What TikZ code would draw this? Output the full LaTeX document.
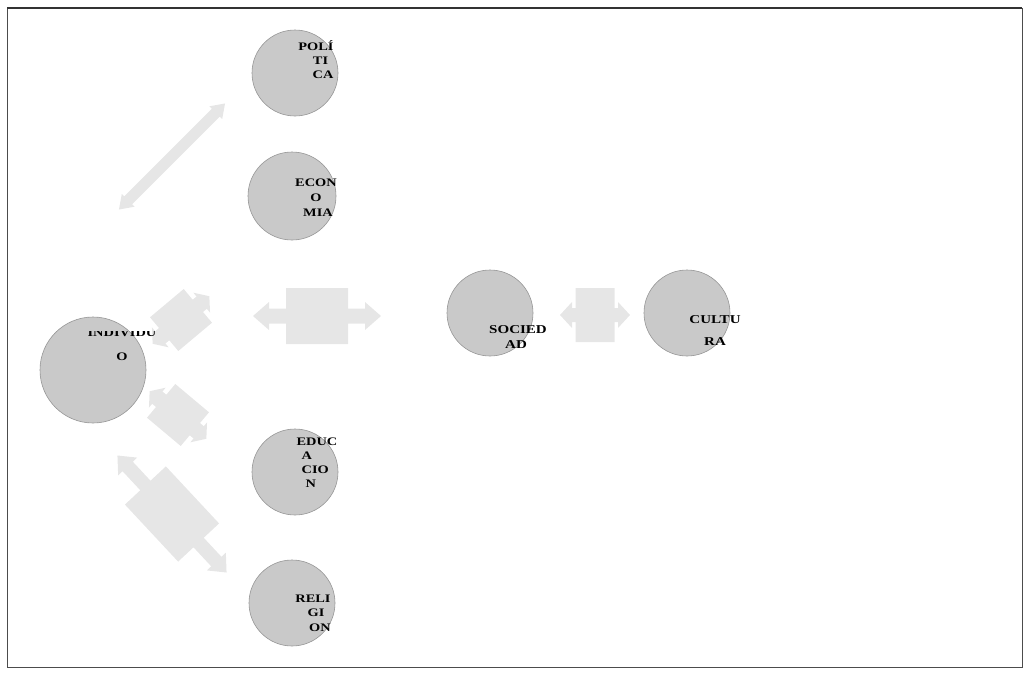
\documentclass[tikz,border=0pt]{standalone}
\usepackage{fontspec}
\setmainfont{Liberation Serif}
\newfontfamily\widefont[FakeStretch=1.25]{Liberation Serif}
\begin{document}
\begin{tikzpicture}[x=1pt,y=-1pt,
  circ/.style={circle,draw={rgb,255:red,150;green,150;blue,150},line width=0.6pt,
    fill={rgb,255:red,201;green,201;blue,201},inner sep=0pt},
  lbl/.style={align=center,inner sep=0pt,text=black},
  blk/.style={fill={rgb,255:red,230;green,230;blue,230},draw=none}]
\useasboundingbox (0,0) rectangle (1030,675);
\draw[line width=0.6pt,black!70] (7,8) rectangle (1022,667);
\draw[line width=1.6pt,black!80] (7,8) -- (1022,8);
% block double arrow: cx, cy, angle, L, bl, bw, s, h, hl
\newcommand\dblarr[9]{%
  \begin{scope}[shift={(#1,#2)},rotate=#3]
  \fill[blk] (-#4,0) -- (-#4+#9,#8) -- (-#4+#9,#7) -- (-#5,#7) -- (-#5,#6) -- (#5,#6) -- (#5,#7)
    -- (#4-#9,#7) -- (#4-#9,#8) -- (#4,0) -- (#4-#9,-#8) -- (#4-#9,-#7) -- (#5,-#7) -- (#5,-#6)
    -- (-#5,-#6) -- (-#5,-#7) -- (-#4+#9,-#7) -- (-#4+#9,-#8) -- cycle;
  \end{scope}}
\dblarr{172}{156.5}{45}{75}{0}{5.5}{5.5}{9}{13}
\dblarr{317}{316}{0}{64}{31}{28}{7.5}{14}{16}
\dblarr{595}{315}{0}{35}{19.5}{27}{7}{13}{12}
\dblarr{172}{514}{-47}{80}{39}{28}{7}{13}{15}
\dblarr{181}{320}{40}{37}{22}{22}{8}{13}{10}
\dblarr{178}{415}{-40}{37}{22}{22}{8}{13}{10}
% circles
\node[circ,minimum size=86pt] (pol) at (295,73) {};
\node[circ,minimum size=88pt] (eco) at (292,196) {};
\node[circ,minimum size=106pt] (ind) at (93,370) {};
\node[circ,minimum size=86pt] (soc) at (490,313) {};
\node[circ,minimum size=86pt] (cul) at (687,313) {};
\node[circ,minimum size=86pt] (edu) at (295,472) {};
\node[circ,minimum size=86pt] (rel) at (292,603) {};
% labels
\node[lbl,font=\widefont\bfseries\fontsize{11.5}{14}\selectfont] (tpol) at (316,60) {POLÍ\\\hspace*{9pt}TI\\\hspace*{14pt}CA};
\node[lbl,font=\widefont\bfseries\fontsize{11.5}{15}\selectfont] (teco) at (316,198) {ECON\\O\\\hspace*{4pt}MIA};
\begin{scope}
  \clip (60,331) rectangle (170,380);
  \node[lbl,font=\widefont\bfseries\fontsize{11.5}{24}\selectfont] (tind) at (122,345) {INDIVIDU\\O};
\end{scope}
\node[lbl,font=\widefont\bfseries\fontsize{12}{15}\selectfont] (tsoc) at (518,337) {SOCIED\\\hspace*{-4pt}AD};
\node[lbl,font=\widefont\bfseries\fontsize{12}{22}\selectfont] (tcul) at (715,331) {CULTU\\RA};
\node[lbl,font=\widefont\bfseries\fontsize{11.5}{14}\selectfont,align=left] (tedu) at (317,463) {EDUC\\\hspace*{5pt}A\\\hspace*{5pt}CIO\\\hspace*{9pt}N};
\node[lbl,font=\widefont\bfseries\fontsize{11.5}{14.5}\selectfont] (trel) at (313,613) {RELI\\\hspace*{6pt}GI\\\hspace*{14pt}ON};
\end{tikzpicture}
\end{document}
